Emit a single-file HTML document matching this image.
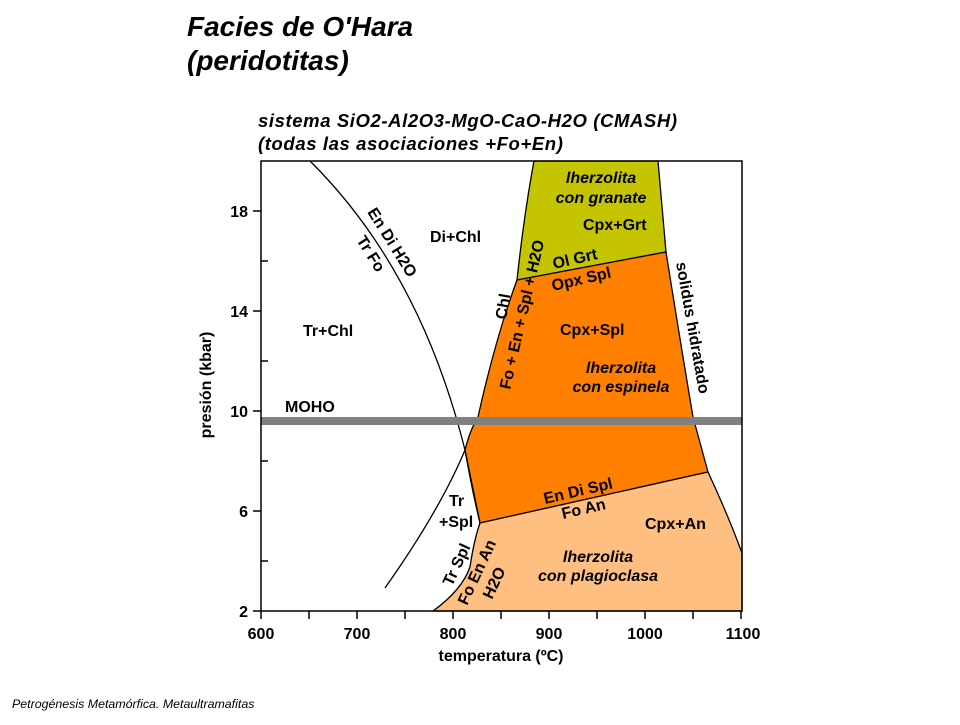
<!DOCTYPE html>
<html><head><meta charset="utf-8"><style>
body{margin:0;background:#fff;width:960px;height:720px;overflow:hidden;font-family:"Liberation Sans",sans-serif}
</style></head><body>
<svg width="960" height="720" xmlns="http://www.w3.org/2000/svg" font-family="Liberation Sans, sans-serif">
<text x="187" y="36" font-size="28" font-weight="bold" font-style="italic">Facies de O'Hara</text>
<text x="187" y="70" font-size="28" font-weight="bold" font-style="italic">(peridotitas)</text>
<text x="258" y="127" font-size="18.5" font-weight="bold" font-style="italic" letter-spacing="0.6">sistema SiO2-Al2O3-MgO-CaO-H2O (CMASH)</text>
<text x="258" y="150" font-size="18.5" font-weight="bold" font-style="italic" letter-spacing="0.6">(todas las asociaciones +Fo+En)</text>
<path d="M534,161 L658,161 L666,252 L517,280 Q524,215 534,161 Z" fill="#c4c400" stroke="#000" stroke-width="1.3"/>
<path d="M517,280 L666,252 Q680,340 693,417 L708,472 L480,523 L465,450 Q470,430 478,417 Q495,340 517,280 Z" fill="#ff7f00" stroke="#000" stroke-width="1.3"/>
<path d="M480,523 L708,472 Q728,515 742,553 L742,611 L433,611 Q462,590 470,567 Q474,540 480,523 Z" fill="#ffbf80" stroke="#000" stroke-width="1.3"/>
<path d="M310,161 Q420,270 465,450 Q472,490 480,523" fill="none" stroke="#000" stroke-width="1.3"/>
<path d="M385,588 Q440,510 465,450" fill="none" stroke="#000" stroke-width="1.3"/>
<rect x="261" y="417" width="481" height="8" fill="#808080"/>
<rect x="261" y="161" width="481" height="450" fill="none" stroke="#000" stroke-width="1.5"/>
<g stroke="#000" stroke-width="1.5">
<line x1="253" y1="211" x2="261" y2="211"/><line x1="253" y1="311" x2="261" y2="311"/><line x1="253" y1="411" x2="261" y2="411"/><line x1="253" y1="511" x2="261" y2="511"/><line x1="253" y1="611" x2="261" y2="611"/>
<line x1="261" y1="261" x2="268" y2="261"/><line x1="261" y1="361" x2="268" y2="361"/><line x1="261" y1="461" x2="268" y2="461"/><line x1="261" y1="561" x2="268" y2="561"/>
<line x1="261" y1="611" x2="261" y2="619"/><line x1="309" y1="611" x2="309" y2="619"/><line x1="357" y1="611" x2="357" y2="619"/><line x1="405" y1="611" x2="405" y2="619"/><line x1="453" y1="611" x2="453" y2="619"/><line x1="501" y1="611" x2="501" y2="619"/><line x1="549" y1="611" x2="549" y2="619"/><line x1="597" y1="611" x2="597" y2="619"/><line x1="645" y1="611" x2="645" y2="619"/><line x1="693" y1="611" x2="693" y2="619"/><line x1="741" y1="611" x2="741" y2="619"/>
</g>
<g font-size="16" font-weight="bold" text-anchor="end">
<text x="248" y="217">18</text><text x="248" y="317">14</text><text x="248" y="417">10</text><text x="248" y="517">6</text><text x="248" y="617">2</text>
</g>
<g font-size="16" font-weight="bold" text-anchor="middle">
<text x="261" y="639">600</text><text x="357" y="639">700</text><text x="453" y="639">800</text><text x="549" y="639">900</text><text x="645" y="639">1000</text><text x="743" y="639">1100</text>
<text x="501" y="661">temperatura (ºC)</text>
</g>
<text transform="translate(211,385) rotate(-90)" font-size="16" font-weight="bold" text-anchor="middle">presión (kbar)</text>
<g font-size="16" font-weight="bold">
<text x="430" y="242">Di+Chl</text>
<text x="303" y="336">Tr+Chl</text>
<text x="285" y="412">MOHO</text>
<text x="449" y="506">Tr</text>
<text x="439" y="527">+Spl</text>
<text x="583" y="230">Cpx+Grt</text>
<text x="560" y="335">Cpx+Spl</text>
<text x="645" y="529">Cpx+An</text>
<text transform="translate(554,269) rotate(-13)">Ol Grt</text>
<text transform="translate(553,291) rotate(-13)">Opx Spl</text>
<text transform="translate(545,504) rotate(-13)">En Di Spl</text>
<text transform="translate(563,519) rotate(-13)">Fo An</text>
<text transform="translate(367,212) rotate(58)">En Di H2O</text>
<text transform="translate(356,240) rotate(58)">Tr Fo</text>
<text transform="translate(676,263) rotate(80)">solidus hidratado</text>
<text transform="translate(506,320) rotate(-80)">Chl</text>
<text transform="translate(510,390) rotate(-77)">Fo + En + Spl + H2O</text>
<text transform="translate(452,587) rotate(-65)">Tr Spl</text>
<text transform="translate(467,606) rotate(-65)">Fo En An</text>
<text transform="translate(492,600) rotate(-65)">H2O</text>
</g>
<g font-size="16" font-weight="bold" font-style="italic" text-anchor="middle">
<text x="601" y="183">lherzolita</text><text x="601" y="203">con granate</text>
<text x="621" y="373">lherzolita</text><text x="621" y="392">con espinela</text>
<text x="598" y="562">lherzolita</text><text x="598" y="581">con plagioclasa</text>
</g>
<text x="12" y="708" font-size="12.4" font-style="italic">Petrogénesis Metamórfica. Metaultramafitas</text>
</svg>
</body></html>
